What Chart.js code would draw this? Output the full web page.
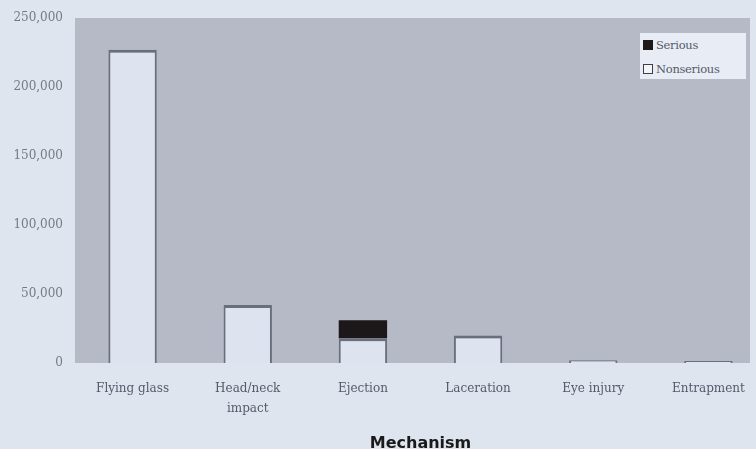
<!DOCTYPE html>
<html>
<head>
<meta charset="utf-8">
<script src="https://cdn.jsdelivr.net/npm/chart.js@4"></script>
<style>
  html, body { margin: 0; padding: 0; background: #dfe5ef; overflow: hidden; }
  #wrap { position: relative; width: 768px; height: 449px; }
  #legend {
    position: absolute; left: 640px; top: 33px; width: 106px; height: 46px;
    background: #e8ecf4; font: 11.5px "DejaVu Serif", serif; color: #55596a;
    box-sizing: border-box; padding: 6px 0 0 3px; white-space: nowrap; letter-spacing: -0.3px;
  }
  #legend div { height: 24px; line-height: 13px; }
  #legend span { display: inline-block; width: 10px; height: 10px; margin-right: 3px; vertical-align: -1px; box-sizing: border-box; }
</style>
</head>
<body>
<div id="wrap">
  <canvas id="chart" width="768" height="449"></canvas>
  <div id="legend"></div>
</div>
<script>
const categories = ["Flying glass", ["Head/neck", "impact"], "Ejection", "Laceration", "Eye injury", "Entrapment"];
const nonserious = [227000, 42000, 18000, 20000, 2000, 1500];
const serious = [0, 0, 13000, 0, 0, 0];
const yTicks = [0, 50000, 100000, 150000, 200000, 250000];

const SERIF = "'DejaVu Serif', 'Liberation Serif', serif";

const plotBg = {
  id: "plotBg",
  beforeDraw(chart) {
    const { ctx, chartArea: a } = chart;
    ctx.save();
    ctx.fillStyle = "#b6b9c6";
    ctx.fillRect(a.left, a.top, Math.min(a.right, 750) - a.left, a.bottom - a.top);
    ctx.restore();
  },
};

const datasets = [
  {
    label: "Nonserious", data: nonserious, backgroundColor: "#dde4ef", borderColor: "#6a6f7c",
    borderWidth: { top: 3, left: 2, right: 2, bottom: 0 }, borderSkipped: "bottom",
  },
  { label: "Serious", data: serious, backgroundColor: "#1c1719", borderColor: "#1c1719", borderWidth: 0 },
];

new Chart(document.getElementById("chart"), {
  type: "bar",
  data: { labels: categories, datasets },
  plugins: [plotBg],
  options: {
    responsive: false,
    animation: false,
    layout: { padding: { top: 18, right: 2, left: 0, bottom: 0 } },
    datasets: { bar: { barPercentage: 0.42, categoryPercentage: 1 } },
    plugins: { legend: { display: false }, tooltip: { enabled: false } },
    scales: {
      x: {
        stacked: true,
        grid: { display: false },
        border: { display: false },
        ticks: { color: "#55596a", font: { family: SERIF, size: 12, lineHeight: 1.67 }, padding: 8, maxRotation: 0 },
        title: { display: true, text: "Mechanism", color: "#1a1a1a", font: { family: "'DejaVu Sans', sans-serif", size: 16, weight: "bold" }, padding: { top: 0, bottom: -4 } },
        afterFit: s => { s.height = 86; },
      },
      y: {
        stacked: true,
        min: 0,
        max: 250000,
        afterBuildTicks: s => { s.ticks = yTicks.map(v => ({ value: v })); },
        grid: { display: false },
        border: { display: false },
        ticks: { color: "#767a86", font: { family: SERIF, size: 12 }, padding: 4, callback: v => v.toLocaleString("en-US") },
        afterFit: s => { s.width = 75; },
      },
    },
  },
});

const legend = document.getElementById("legend");
[["Serious", "#1c1719", "#1c1719"], ["Nonserious", "#f2f4f8", "#3c3f48"]].forEach(([name, fill, edge]) => {
  const row = document.createElement("div");
  row.innerHTML = `<span style="background:${fill};border:1px solid ${edge}"></span>${name}`;
  legend.appendChild(row);
});
</script>
</body>
</html>
